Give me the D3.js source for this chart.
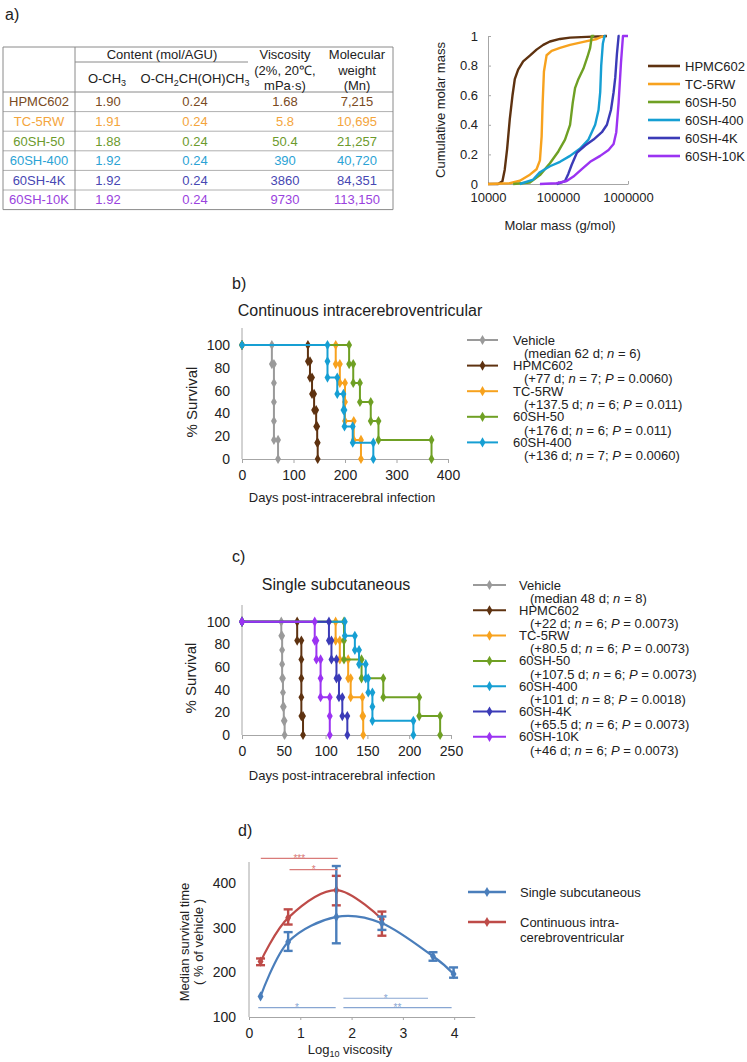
<!DOCTYPE html>
<html><head><meta charset="utf-8">
<script src="https://cdn.jsdelivr.net/npm/d3@7"></script>
<style>
body{margin:0;background:#fff}
svg{display:block}
text{font-family:"Liberation Sans",Arial,Helvetica,sans-serif;fill:#222}
</style>
</head><body>
<svg id="c" width="747" height="1062"></svg>
<script>
// ---------------- DATA ----------------
const products = ["HPMC602","TC-5RW","60SH-50","60SH-400","60SH-4K","60SH-10K"];
const och3Content = ["1.90","1.91","1.88","1.92","1.92","1.92"];
const ohpContent = ["0.24","0.24","0.24","0.24","0.24","0.24"];
const viscosityText = ["1.68","5.8","50.4","390","3860","9730"];
const mnText = ["7,215","10,695","21,257","40,720","84,351","113,150"];

const cumXTicks = [10000,100000,1000000];
const cumYTicks = [0,0.2,0.4,0.6,0.8,1];
// [molar mass, cumulative fraction]
const cumHPMC602 = [[10000,0],[13900,0],[16060,0.018],[17340,0.097],[18750,0.236],[20470,0.438],[22350,0.596],[24130,0.708],[26960,0.773],[31790,0.829],[39620,0.867],[49380,0.908],[61530,0.94],[76690,0.963],[106800,0.98],[148700,0.989],[257800,0.994],[447400,0.998],[500000,1]];
const cumTC5RW = [[10000,0],[20470,0.005],[28500,0.022],[39620,0.063],[49380,0.1],[55180,0.16],[58340,0.32],[60260,0.54],[62980,0.76],[68730,0.87],[81100,0.9],[106800,0.92],[148700,0.94],[231000,0.96],[359000,0.98],[447400,1]];
const cum60SH50 = [[22860,0],[39620,0.01],[55180,0.06],[76690,0.14],[101100,0.22],[126000,0.3],[148700,0.4],[162500,0.55],[175600,0.65],[196000,0.71],[231000,0.78],[263800,0.86],[287900,0.92],[304300,1],[330000,1]];
const cum60SH400 = [[28500,0],[44260,0.03],[55180,0.08],[76690,0.12],[106800,0.15],[148700,0.19],[207000,0.24],[272500,0.3],[339600,0.4],[379300,0.5],[400800,0.62],[414300,0.8],[437400,0.95],[462600,1],[480000,1]];
const cum60SH4K = [[95700,0],[126000,0.02],[140700,0.07],[157000,0.13],[185400,0.21],[244100,0.26],[321500,0.3],[423500,0.35],[499800,0.4],[570600,0.5],[622700,0.62],[658000,0.72],[695000,0.88],[734600,1],[760000,1]];
const cum60SH10K = [[55180,0],[95700,0.005],[133000,0.02],[166000,0.05],[218800,0.1],[287900,0.15],[400800,0.19],[527600,0.23],[622700,0.27],[680000,0.35],[734600,0.55],[794000,0.82],[847500,1],[1000000,1]];

// Panel b: Kaplan-Meier vertices [day, % survival]
const bDayTicks = [0,100,200,300,400];
const survivalTicks = [0,20,40,60,80,100];
const bVehicle = [[0,100],[58,100],[58,83.3],[62,83.3],[62,66.7],[62,50],[62,33.3],[62,16.7],[70,16.7],[70,0]];
const bHPMC602 = [[0,100],[128,100],[128,85.7],[132,85.7],[132,71.4],[136,71.4],[136,57.1],[140,57.1],[140,42.9],[144,42.9],[144,28.6],[146,28.6],[146,14.3],[147,14.3],[147,0]];
const bTC5RW = [[0,100],[182,100],[182,83.3],[190,83.3],[190,66.7],[200,66.7],[200,50],[200,33.3],[217,33.3],[217,16.7],[231,16.7],[231,0]];
const b60SH50 = [[0,100],[208,100],[208,83.3],[216,83.3],[216,66.7],[229,66.7],[229,50],[250,50],[250,33.3],[265,33.3],[265,16.7],[368,16.7],[368,0]];
const b60SH400 = [[0,100],[166,100],[166,85.7],[166,71.4],[185,71.4],[185,57.1],[197,57.1],[197,42.9],[199,42.9],[199,28.6],[215,28.6],[215,14.3],[255,14.3],[255,0]];
const bLegendNames = ["Vehicle","HPMC602","TC-5RW","60SH-50","60SH-400"];
const bLegendDetail = ["(median 62 d; _n_ = 6)","(+77 d; _n_ = 7; _P_ = 0.0060)","(+137.5 d; _n_ = 6; _P_ = 0.011)","(+176 d; _n_ = 6; _P_ = 0.011)","(+136 d; _n_ = 7; _P_ = 0.0060)"];

// Panel c
const cDayTicks = [0,50,100,150,200,250];
const cVehicle = [[0,100],[47,100],[47,87.5],[48,87.5],[48,75],[48,62.5],[48,50],[49,50],[49,37.5],[49,25],[50,25],[50,12.5],[51,12.5],[51,0]];
const cHPMC602 = [[0,100],[66,100],[66,83.3],[71,83.3],[71,66.7],[71,50],[71,33.3],[71,16.7],[73,16.7],[73,0]];
const cTC5RW = [[0,100],[112,100],[112,83.3],[117,83.3],[117,66.7],[127,66.7],[127,50],[130,50],[130,33.3],[144,33.3],[144,16.7],[145,16.7],[145,0]];
const c60SH50 = [[0,100],[122,100],[122,83.3],[122,66.7],[143,66.7],[143,50],[169,50],[169,33.3],[212,33.3],[212,16.7],[237,16.7],[237,0]];
const c60SH400 = [[0,100],[123,100],[123,87.5],[135,87.5],[135,75],[140,75],[140,62.5],[148,62.5],[148,50],[151,50],[151,37.5],[156,37.5],[156,25],[156,12.5],[205,12.5],[205,0]];
const c60SH4K = [[0,100],[104,100],[104,83.3],[107,83.3],[107,66.7],[113,66.7],[113,50],[116,50],[116,33.3],[120,33.3],[120,16.7],[126,16.7],[126,0]];
const c60SH10K = [[0,100],[87,100],[87,83.3],[89,83.3],[89,66.7],[94,66.7],[94,50],[94,33.3],[105,33.3],[105,16.7],[105,0]];
const cLegendNames = ["Vehicle","HPMC602","TC-5RW","60SH-50","60SH-400","60SH-4K","60SH-10K"];
const cLegendDetail = ["(median 48 d; _n_ = 8)","(+22 d; _n_ = 6; _P_ = 0.0073)","(+80.5 d; _n_ = 6; _P_ = 0.0073)","(+107.5 d; _n_ = 6; _P_ = 0.0073)","(+101 d; _n_ = 8; _P_ = 0.0018)","(+65.5 d; _n_ = 6; _P_ = 0.0073)","(+46 d; _n_ = 6; _P_ = 0.0073)"];

// Panel d
const dXTicks = [0,1,2,3,4];
const dYTicks = [100,200,300,400];
const logViscosity = [0.225,0.763,1.702,2.591,3.587,3.988];
const subcutMedian = [146,268,324,310,236,196];
const subcutLow = [146,248,265,295,226,188];
const subcutHigh = [146,290,438,325,245,211];
const icvMedian = [224,322,384,319];
const icvLow = [216,307,350,282];
const icvHigh = [231,341,416,336];
const icvSig = [[0.23,1.73,455,"***"],[0.79,1.73,430,"*"]];
const subcutSig = [[0.18,1.69,121,"*"],[1.84,3.49,142,"*"],[1.84,3.95,121,"**"]];

// ---------------- STYLE ----------------
const lineCol = {"Vehicle":"#9a9a9a","HPMC602":"#5e3210","TC-5RW":"#f7a21e","60SH-50":"#6fa024","60SH-400":"#169fd3","60SH-4K":"#3b3bb7","60SH-10K":"#9b33f2"};
const tableCol = ["#7a4a22","#f4a53c","#6c9a2c","#2ba3d5","#4747b3","#9a42de"];
const axisCol = "#a6a6a6";

const svg = d3.select("#c");

function rich(sel, str){
  str.split(/(_[^_]+_)/).forEach(p=>{
    if(!p) return;
    const t = sel.append("tspan");
    if(p[0]==="_"){ t.attr("font-style","italic").text(p.slice(1,-1)); } else t.text(p);
  });
}
function label(x,y,s,size,anchor){
  return svg.append("text").attr("x",x).attr("y",y).attr("dy","0.35em")
    .attr("font-size",size||13).attr("text-anchor",anchor||"middle").text(s);
}
function styleAxis(g,size){
  g.select(".domain").attr("stroke",axisCol).attr("stroke-width",1);
  g.selectAll(".tick line").attr("stroke",axisCol);
  g.selectAll(".tick text").attr("fill","#222").attr("font-size",size)
    .attr("font-family",'"Liberation Sans",Arial,sans-serif');
}

// panel labels
label(5,14,"a)",16,"start");
label(232,283,"b)",16,"start");
label(232,556,"c)",16,"start");
label(238,830,"d)",16,"start");

// ---------------- TABLE ----------------
(function(){
  const L=3,R=393,T=47,HB=92,rowH=19.6,C0=75;
  const colX=[39,108,195,285,357];
  const g=svg.append("g");
  const hl=(x1,x2,y,c)=>g.append("line").attr("x1",x1).attr("x2",x2).attr("y1",y).attr("y2",y).attr("stroke",c||"#a0a0a0").attr("stroke-width",1);
  hl(L,R,T,"#8a8a8a");
  hl(C0,248,62,"#8a8a8a");
  hl(L,R,HB,"#8a8a8a");
  products.forEach((p,i)=>hl(L,R,HB+(i+1)*rowH, i===products.length-1?"#8a8a8a":"#b0b0b0"));
  g.append("line").attr("x1",L).attr("x2",L).attr("y1",T).attr("y2",HB+6*rowH).attr("stroke","#8a8a8a");
  g.append("line").attr("x1",C0).attr("x2",C0).attr("y1",T).attr("y2",HB+6*rowH).attr("stroke","#8a8a8a");
  g.append("line").attr("x1",R).attr("x2",R).attr("y1",T).attr("y2",HB+6*rowH).attr("stroke","#8a8a8a");
  label(162,54,"Content (mol/AGU)",13);
  const t1=label(107,78,"",13); t1.append("tspan").text("O-CH"); t1.append("tspan").attr("font-size",9).attr("dy",3).text("3");
  const t2=label(195,78,"",13); t2.append("tspan").text("O-CH"); t2.append("tspan").attr("font-size",9).attr("dy",3).text("2");
  t2.append("tspan").attr("dy",-3).text("CH(OH)CH"); t2.append("tspan").attr("font-size",9).attr("dy",3).text("3");
  label(285,54,"Viscosity",13); label(285,70,"(2%, 20℃,",13); label(285,85,"mPa·s)",13);
  label(357,54,"Molecular",13); label(357,70,"weight",13); label(357,85,"(Mn)",13);
  const cols=[products,och3Content,ohpContent,viscosityText,mnText];
  products.forEach((p,i)=>{
    const y=HB+rowH*(i+0.5);
    cols.forEach((col,j)=>label(colX[j],y,col[i],13).attr("fill",tableCol[i]).style("fill",tableCol[i]));
  });
})();

// ---------------- CUMULATIVE ----------------
(function(){
  const x=d3.scaleLog().domain([1e4,1e6]).range([488,628]);
  const y=d3.scaleLinear().domain([0,1]).range([184,36]);
  const gx=svg.append("g").attr("transform","translate(0,184)")
    .call(d3.axisBottom(x).tickValues(cumXTicks).tickFormat(d3.format("d")).tickSize(-3).tickSizeOuter(0).tickPadding(9));
  styleAxis(gx,13);
  const gy=svg.append("g").attr("transform","translate(488,0)")
    .call(d3.axisLeft(y).tickValues(cumYTicks).tickFormat(d3.format("")).tickSize(-3).tickSizeOuter(0).tickPadding(10));
  styleAxis(gy,13);
  label(0,0,"Cumulative molar mass",13).attr("transform","translate(440,110) rotate(-90)");
  label(560,225,"Molar mass (g/mol)",13);
  const series=[["HPMC602",cumHPMC602],["TC-5RW",cumTC5RW],["60SH-50",cum60SH50],["60SH-400",cum60SH400],["60SH-4K",cum60SH4K],["60SH-10K",cum60SH10K]];
  const ln=d3.line().x(d=>x(d[0])).y(d=>y(d[1]));
  series.forEach(([n,d],i)=>{
    svg.append("path").attr("d",ln(d)).attr("fill","none").attr("stroke",lineCol[n]).attr("stroke-width",2.4).attr("stroke-linejoin","round");
    const ly=66+i*18;
    svg.append("line").attr("x1",648).attr("x2",680).attr("y1",ly).attr("y2",ly).attr("stroke",lineCol[n]).attr("stroke-width",2.6);
    label(685,ly,n,13,"start");
  });
})();

// ---------------- KM helper ----------------
const diamond=d3.symbol().type(d3.symbolDiamond).size(30);
function km(x,y,series){
  const ln=d3.line().x(d=>x(d[0])).y(d=>y(d[1]));
  series.forEach(([n,d])=>{
    svg.append("path").attr("d",ln(d)).attr("fill","none").attr("stroke",lineCol[n]).attr("stroke-width",2);
    svg.append("g").selectAll("path").data(d).join("path").attr("d",diamond)
      .attr("transform",p=>`translate(${x(p[0])},${y(p[1])})`).attr("fill",lineCol[n]);
  });
}
function kmLegend(names,details,x1,x2,tx,y0,dy){
  names.forEach((n,i)=>{
    const ly=y0+i*dy;
    svg.append("line").attr("x1",x1).attr("x2",x2).attr("y1",ly).attr("y2",ly).attr("stroke",lineCol[n]).attr("stroke-width",2);
    svg.append("path").attr("d",diamond).attr("transform",`translate(${(x1+x2)/2},${ly})`).attr("fill",lineCol[n]);
    label(tx,ly,n,13,"start");
    rich(label(tx+11,ly+13.2,"",13,"start"),details[i]);
  });
}
function kmAxes(x,y,ticksX,yTopPx,x0,y0){
  const gx=svg.append("g").attr("transform",`translate(0,${y0})`)
    .call(d3.axisBottom(x).tickValues(ticksX).tickSize(4).tickSizeOuter(0).tickPadding(7));
  styleAxis(gx,14);
  const gy=svg.append("g").attr("transform",`translate(${x0},0)`)
    .call(d3.axisLeft(y).tickValues(survivalTicks).tickSize(0).tickPadding(12));
  styleAxis(gy,14);
  gy.select(".domain").remove();
  svg.append("line").attr("x1",x0).attr("x2",x0).attr("y1",y0).attr("y2",yTopPx).attr("stroke",axisCol);
}

// ---------------- PANEL B ----------------
(function(){
  const x=d3.scaleLinear().domain([0,400]).range([242,448]);
  const y=d3.scaleLinear().domain([0,100]).range([459,345]);
  kmAxes(x,y,bDayTicks,328,242,459);
  label(360,310,"Continuous intracerebroventricular",16);
  label(0,0,"% Survival",15).attr("transform","translate(192,402) rotate(-90)");
  label(342,497,"Days post-intracerebral infection",13);
  km(x,y,[["Vehicle",bVehicle],["HPMC602",bHPMC602],["TC-5RW",bTC5RW],["60SH-50",b60SH50],["60SH-400",b60SH400]]);
  kmLegend(bLegendNames,bLegendDetail,467,498,513,340,25.6);
})();

// ---------------- PANEL C ----------------
(function(){
  const x=d3.scaleLinear().domain([0,250]).range([242,451]);
  const y=d3.scaleLinear().domain([0,100]).range([735,621.7]);
  kmAxes(x,y,cDayTicks,605,242,735);
  label(336,584,"Single subcutaneous",16);
  label(0,0,"% Survival",15).attr("transform","translate(191,678) rotate(-90)");
  label(342,775,"Days post-intracerebral infection",13);
  km(x,y,[["Vehicle",cVehicle],["HPMC602",cHPMC602],["TC-5RW",cTC5RW],["60SH-50",c60SH50],["60SH-400",c60SH400],["60SH-4K",c60SH4K],["60SH-10K",c60SH10K]]);
  kmLegend(cLegendNames,cLegendDetail,473,506,519,585,25.3);
})();

// ---------------- PANEL D ----------------
(function(){
  const blue="#4a7ebb", red="#be4b48", blueL="#88a6d2", redL="#d97b79";
  const x=d3.scaleLinear().domain([0,4.4]).range([249,474.7]);
  const y=d3.scaleLinear().domain([100,400]).range([1017,883]);
  const gx=svg.append("g").attr("transform","translate(0,1017)")
    .call(d3.axisBottom(x).tickValues(dXTicks).tickFormat(d3.format("d")).tickSize(3).tickSizeOuter(0).tickPadding(8));
  styleAxis(gx,14);
  const gy=svg.append("g").attr("transform","translate(249,0)")
    .call(d3.axisLeft(y).tickValues(dYTicks).tickSize(0).tickPadding(13));
  styleAxis(gy,14);
  gy.select(".domain").remove();
  svg.append("line").attr("x1",249).attr("x2",249).attr("y1",1017).attr("y2",y(447)).attr("stroke",axisCol);
  const yl=label(0,0,"",13).attr("transform","translate(191,942) rotate(-90)");
  yl.append("tspan").attr("x",0).attr("dy","-0.15em").text("Median survival time");
  yl.append("tspan").attr("x",0).attr("dy","1.1em").text("( % of vehicle )");
  const xl=label(350,1049,"",13);
  xl.append("tspan").text("Log"); xl.append("tspan").attr("font-size",9).attr("dy",3).text("10");
  xl.append("tspan").attr("dy",-3).text(" viscosity");

  const sm=d3.line().curve(d3.curveCardinal.tension(0)).x(d=>x(d[0])).y(d=>y(d[1]));
  const blueData=logViscosity.map((v,i)=>[v,subcutMedian[i],subcutLow[i],subcutHigh[i]]);
  const redData=icvMedian.map((m,i)=>[logViscosity[i],m,icvLow[i],icvHigh[i]]);
  function drawSeries(data,col){
    svg.append("path").attr("d",sm(data)).attr("fill","none").attr("stroke",col).attr("stroke-width",2.2);
    data.forEach(d=>{
      if(d[3]-d[2]>0.5){
        const g=svg.append("g").attr("stroke",col).attr("stroke-width",2.4);
        g.append("line").attr("x1",x(d[0])).attr("x2",x(d[0])).attr("y1",y(d[2])).attr("y2",y(d[3]));
        [d[2],d[3]].forEach(v=>g.append("line").attr("x1",x(d[0])-4.5).attr("x2",x(d[0])+4.5).attr("y1",y(v)).attr("y2",y(v)));
      }
      svg.append("path").attr("d",diamond).attr("transform",`translate(${x(d[0])},${y(d[1])})`).attr("fill",col);
    });
  }
  drawSeries(redData,red);
  drawSeries(blueData,blue);
  function sig(list,col){
    list.forEach(([a,b,v,s])=>{
      svg.append("line").attr("x1",x(a)).attr("x2",x(b)).attr("y1",y(v)).attr("y2",y(v)).attr("stroke",col).attr("stroke-width",1.2);
      svg.append("text").attr("x",(x(a)+x(b))/2).attr("y",y(v)+3.5).attr("text-anchor","middle").attr("font-size",10).style("fill",col).text(s);
    });
  }
  sig(icvSig,redL);
  sig(subcutSig,blueL);
  // legend
  [[blue,892,["Single subcutaneous"]],[red,922,["Continuous intra-","cerebroventricular"]]].forEach(([c,ly,lines])=>{
    svg.append("line").attr("x1",468).attr("x2",506).attr("y1",ly).attr("y2",ly).attr("stroke",c).attr("stroke-width",2.4);
    svg.append("path").attr("d",diamond).attr("transform",`translate(487,${ly})`).attr("fill",c);
    lines.forEach((t,k)=>label(520,ly+k*15,t,13,"start"));
  });
})();
</script>
</body></html>
